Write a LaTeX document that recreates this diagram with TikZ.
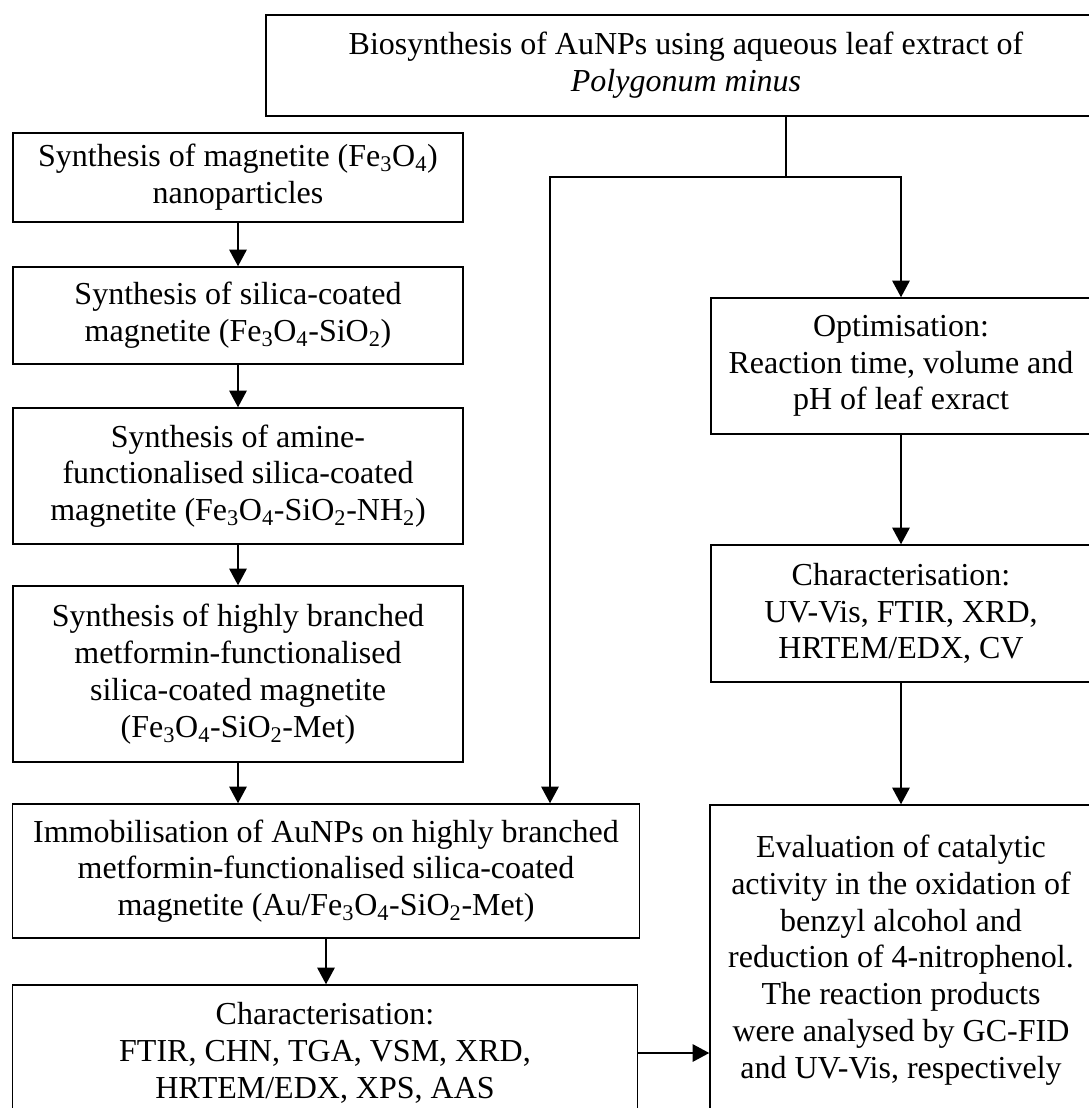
\documentclass[tikz,border=0pt]{standalone}
\usepackage{fontspec}
\setmainfont{Liberation Serif}
\usepackage{tikz}
\usetikzlibrary{calc, shapes, arrows.meta}
\usetikzlibrary{positioning}
\tikzstyle{process} = [rectangle, draw, line width=1.1pt, align=center, inner sep=0pt, font=\fontsize{24pt}{27.6pt}\selectfont]
\tikzstyle{flow} = [line width=1.6pt, -{Triangle[length=12.5pt, width=13pt]}]

\begin{document}
\begin{tikzpicture}[x=0.75pt, y=-0.75pt]
        \useasboundingbox (0, 0) rectangle (1089, 1108);
        \clip (0, 0) rectangle (1089, 1108);

        \node[process, minimum width=630pt, minimum height=75.75pt] at (686, 65.5) (bio) {Biosynthesis of AuNPs using aqueous leaf extract of\\\textit{Polygonum minus}};

        \node[process, minimum width=337.5pt, minimum height=66.75pt] at (238, 177.5) (mag) {Synthesis of magnetite (Fe\textsubscript{3}O\textsubscript{4})\\nanoparticles};
        \node[process, minimum width=337.5pt, minimum height=72.75pt] at (238, 315.5) (sil) {Synthesis of silica-coated\\magnetite (Fe\textsubscript{3}O\textsubscript{4}-SiO\textsubscript{2})};
        \node[process, minimum width=337.5pt, minimum height=102pt] at (238, 476) (amine) {Synthesis of amine-\\functionalised silica-coated\\magnetite (Fe\textsubscript{3}O\textsubscript{4}-SiO\textsubscript{2}-NH\textsubscript{2})};
        \node[process, minimum width=337.5pt, minimum height=132pt] at (238, 674) (met) {Synthesis of highly branched\\metformin-functionalised\\silica-coated magnetite\\(Fe\textsubscript{3}O\textsubscript{4}-SiO\textsubscript{2}-Met)};
        \node[process, minimum width=470.25pt, minimum height=100.5pt] at (326, 871) (immob) {Immobilisation of AuNPs on highly branched\\metformin-functionalised silica-coated\\magnetite (Au/Fe\textsubscript{3}O\textsubscript{4}-SiO\textsubscript{2}-Met)};
        \node[process, minimum width=468.75pt, minimum height=102pt] at (325, 1053) (charL) {Characterisation:\\FTIR, CHN, TGA, VSM, XRD,\\HRTEM/EDX, XPS, AAS};

        \node[process, minimum width=285pt, minimum height=102pt] at (901, 366) (opt) {Optimisation:\\Reaction time, volume and\\pH of leaf exract};
        \node[process, minimum width=285pt, minimum height=102.75pt] at (901, 613.5) (charR) {Characterisation:\\UV-Vis, FTIR, XRD,\\HRTEM/EDX, CV};
        \node[process, minimum width=286.5pt, minimum height=232.5pt] at (901, 960) (eval) {Evaluation of catalytic\\activity in the oxidation of\\benzyl alcohol and\\reduction of 4-nitrophenol.\\The reaction products\\were analysed by GC-FID\\and UV-Vis, respectively};

        \coordinate (split) at (786, 177);
        \coordinate (branch) at (550, 177);

        \draw[line width=1.1pt] (split |- bio.south) -- (split);
        \draw[flow] (split) -| (opt.north);
        \draw[flow] (split) -- (branch) -- (branch |- immob.north);

        \draw[flow] (mag) -- (sil);
        \draw[flow] (sil) -- (amine);
        \draw[flow] (amine) -- (met);
        \draw[flow] (met.south) -- (met.south |- immob.north);
        \draw[flow] (immob.south) -- (immob.south |- charL.north);

        \draw[flow] (opt) -- (charR);
        \draw[flow] (charR) -- (eval);
        \draw[flow] (charL.east) -- (charL.east -| eval.west);
    \end{tikzpicture}
\end{document}
